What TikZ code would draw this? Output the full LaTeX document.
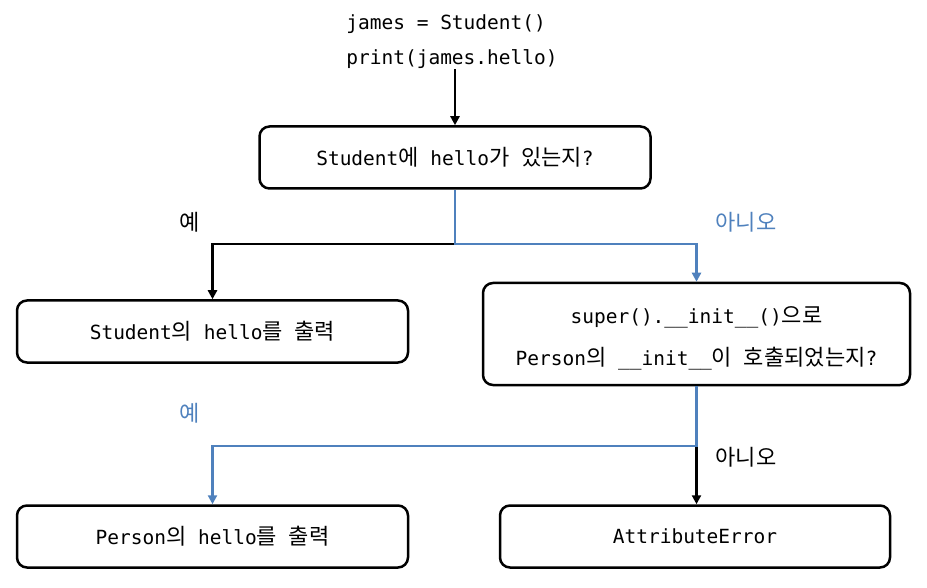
\documentclass[tikz,border=0pt]{standalone}
\usepackage{fontspec}
\setmainfont{DejaVu Sans Mono}
\newfontfamily\kr[Scale=1.13]{Noto Sans CJK KR}
\usetikzlibrary{positioning,calc,arrows.meta}
\definecolor{nablue}{RGB}{79,129,189}
\begin{document}
\begin{tikzpicture}[x=1pt,y=1pt]
    \tikzstyle{every node}=[inner sep=0,font=\fontsize{19.5}{35}\selectfont]
    \tikzstyle{note}=[draw=none,fill=none]
    \tikzstyle{box}=[draw=black,line width=2.5,rounded corners=10,minimum width=391,minimum height=62,fill=white]
    \tikzstyle{yes}=[draw=black,line width=2.5,-{Triangle[length=9,width=9]}]
    \tikzstyle{no}=[draw=nablue,line width=2.5,-{Triangle[length=9,width=9]}]
    \useasboundingbox (0,0) rectangle (927,-588);

    \node[note,align=left] (code) at (452,-42) {james = Student()\\print(james.hello)};

    \node[box] (chk) at (455,-157.5) {Student{\kr 에} hello{\kr 가} {\kr 있는지}?};
    \node[box] (stu) at (212.5,-331.5) {Student{\kr 의} hello{\kr 를} {\kr 출력}};
    \node[box,minimum width=427,minimum height=102,align=center,font=\fontsize{19.5}{42}\selectfont]
        (sup) at (696.5,-334) {\rule{0pt}{26pt}super().\_\_init\_\_(){\kr 으로}\\Person{\kr 의} \_\_init\_\_{\kr 이} {\kr 호출되었는지}?};
    \node[box] (per) at (212.5,-536.5) {Person{\kr 의} hello{\kr 를} {\kr 출력}};
    \node[box,minimum width=390] (err) at (695,-536.5) {AttributeError};

    \coordinate (j1) at (455,-244);
    \coordinate (j2) at (696.5,-446);

    \draw[yes] (code.south -| chk.north) -- (chk.north);
    \draw[yes] (j1) -| (stu.north);
    \draw[no] (chk.south) -- (j1) -| (sup.north);
    \draw[yes] (j2) -- (j2 |- err.north);
    \draw[no] (sup.south) -- (j2) -| (per.north);

    \node[note] (y1) at (190,-222) {\kr 예};
    \node[note,text=nablue] (n1) at (746,-222) {\kr 아니오};
    \node[note,text=nablue] (y2) at (190,-413) {\kr 예};
    \node[note] (n2) at (746,-457) {\kr 아니오};
\end{tikzpicture}
\end{document}
